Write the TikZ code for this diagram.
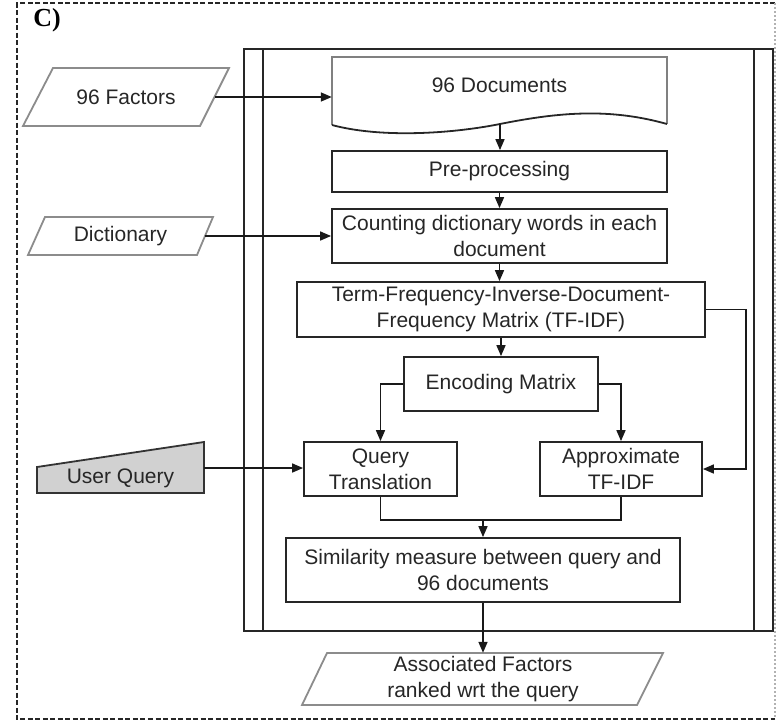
\documentclass[tikz,border=0pt]{standalone}
\usepackage{fontspec}
\setmainfont{Liberation Sans}
\newfontfamily\labelserif{Liberation Serif}
\usetikzlibrary{arrows.meta,calc}
\begin{document}
\begin{tikzpicture}[x=1pt,y=-1pt,
  every node/.style={font=\fontsize{21}{26}\selectfont, text=black!85, inner sep=0pt, align=center},
  box/.style={draw=black!85, line width=1.8pt},
  para/.style={draw=black!45, line width=1.8pt},
  conn/.style={draw=black!90, line width=1.6pt},
  arr/.style={conn, -{Triangle[length=11pt,width=9pt]}}]
\useasboundingbox (0,0) rectangle (777,724);
% outer dashed border
\draw[black!85, line width=1.5pt, dash pattern=on 5pt off 2.5pt] (775,3) -- (17,3) -- (17,719) -- (775,719);
\draw[black!30, line width=1.2pt, dash pattern=on 2pt off 2pt] (775,3) -- (775,719);
\node[font=\labelserif\bfseries\fontsize{26}{28}\selectfont, text=black] (lab) at (47,20) {C)};
% predefined-process frame
\draw[box] (244,49) rectangle (773,631);
\draw[box] (263,49) -- (263,631);
\draw[box] (754,49) -- (754,631);
% 96 Factors
\draw[para] (53,68) -- (229,68) -- (200,126) -- (23,126) -- cycle;
\node[minimum width=178, minimum height=58] (fac) at (126,97) {96 Factors};
% Dictionary
\draw[para] (45,217) -- (213,217) -- (197,255) -- (28,255) -- cycle;
\node[minimum width=169, minimum height=38] (dict) at (120.5,236) {Dictionary};
% User Query (manual input)
\draw[draw=black!80, line width=1.8pt, fill=black!18] (37,467) -- (204,442) -- (204,493) -- (37,493) -- cycle;
\node (uq) at (120.5,478) {User Query};
\coordinate (uqo) at (204,468);
% 96 Documents
\draw[draw=black!50, line width=1.8pt] (667,124) -- (667,57) -- (332,57) -- (332,125);
\draw[draw=black!85, line width=1.8pt] (667,124) .. controls (610,108) and (560,112) .. (500,124) .. controls (450,134) and (380,138) .. (332,125);
\node[minimum width=335, minimum height=56] (doc) at (499.5,85) {96 Documents};
\coordinate (docw) at (500,124);
% process boxes
\node[box, minimum width=335, minimum height=41] (pre) at (499.5,171.5) {Pre-processing};
\node[box, minimum width=335, minimum height=54] (cnt) at (499.5,236) {Counting dictionary words in each\\document};
\node[box, minimum width=408, minimum height=55] (tfidf) at (501,309.5) {Term-Frequency-Inverse-Document-\\Frequency Matrix (TF-IDF)};
\node[box, minimum width=194, minimum height=54] (enc) at (501,384) {Encoding Matrix};
\node[box, minimum width=153, minimum height=54] (qt) at (380.5,469) {Query\\Translation};
\node[box, minimum width=162, minimum height=54] (apx) at (621,469) {Approximate\\TF-IDF};
\node[box, minimum width=394, minimum height=64] (sim) at (483,570) {Similarity measure between query and\\96 documents};
% Associated factors (output)
\draw[para] (327,653) -- (663,653) -- (637,705) -- (302,705) -- cycle;
\node[minimum width=300, minimum height=52] (assoc) at (483,679) {Associated Factors\\ranked wrt the query};
% connectors
\draw[arr] (fac.east) -- (fac.east -| doc.west);
\draw[arr] (dict.east) -- (cnt.west);
\draw[arr] (uqo) -- (uqo -| qt.west);
\draw[arr] (docw) -- (docw |- pre.north);
\draw[arr] (pre.south) -- (cnt.north);
\draw[arr] (cnt.south) -- (cnt.south |- tfidf.north);
\draw[arr] (tfidf.south) -- (tfidf.south |- enc.north);
\draw[arr] (enc.west) -| (qt.north);
\draw[arr] (enc.east) -| (apx.north);
\draw[arr] (tfidf.east) -- ++(40,0) |- (apx.east);
\coordinate (join) at (483,520);
\draw[conn] (qt.south) |- (join) -| (apx.south);
\draw[arr] (join) -- (sim.north);
\draw[arr] (sim.south) -- (assoc.north);
\end{tikzpicture}
\end{document}
